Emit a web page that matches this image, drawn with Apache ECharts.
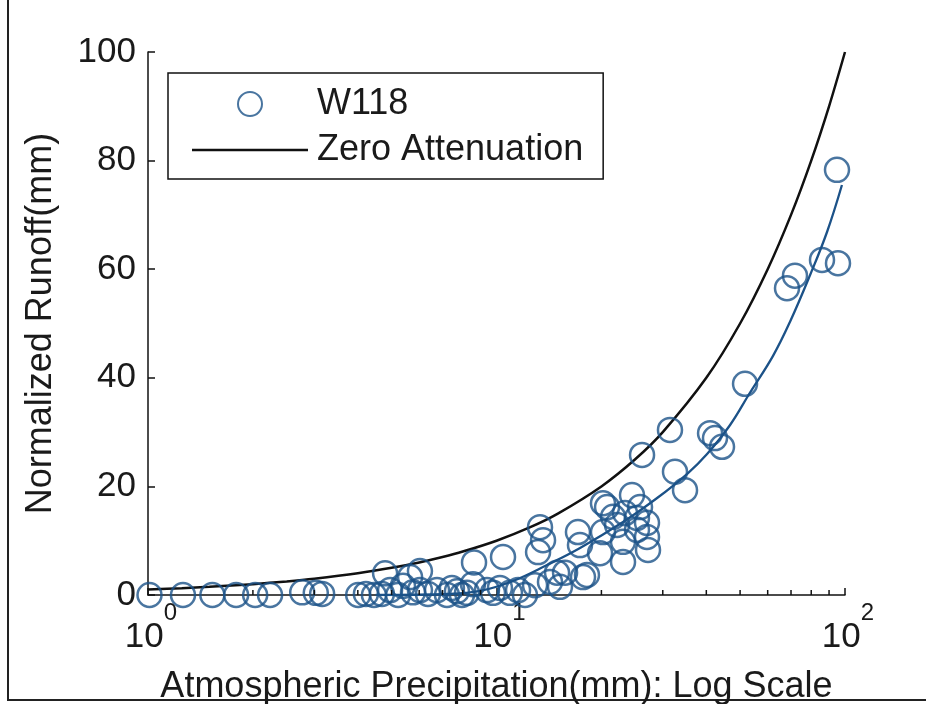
<!DOCTYPE html>
<html><head><meta charset="utf-8">
<script src="https://cdn.jsdelivr.net/npm/echarts@6/dist/echarts.min.js"></script>
<style>html,body{margin:0;padding:0;background:#fff}#c{width:926px;height:704px}</style>
</head><body><div id="c"></div>
<script>
// Observed W118 events: precipitation (mm) and normalized runoff (mm)
var obsX = [1.01,1.26,1.53,1.79,2.03,2.24,2.77,3.03,3.16,4.01,4.22,4.45,4.69,4.79,4.95,5.22,5.39,5.65,5.76,6.03,6.03,6.36,6.75,7.21,7.45,7.70,7.96,8.23,8.56,8.62,9.39,9.77,10.23,10.44,10.93,11.53,12.07,12.90,13.16,13.33,13.60,14.24,14.92,15.21,15.73,17.13,17.36,17.71,18.18,19.82,20.21,20.21,20.76,21.60,22.18,23.07,23.07,23.38,24.48,25.3,25.3,25.81,26.16,27.03,27.03,27.21,31.46,32.52,34.75,41.00,42.36,44.37,51.66,68.17,71.86,85.90,95.48,94.85];
var obsY = [0,0,0,0,0,0,0.5,0.4,0.2,0,0.2,0,0.2,4.0,0.9,0,1.7,3.3,0.5,4.4,0.9,0.2,0.9,0,1.3,0.7,0,0.4,2.0,6.0,0.9,0.4,1.3,7.0,0.4,0.9,0,1.8,7.9,12.5,10.1,2.4,4.1,1.5,4.1,11.6,9.2,3.3,3.7,7.7,11.6,16.9,16.2,14.4,12.9,9.8,6.1,15.1,18.4,14.2,12.0,16.2,25.8,13.3,10.7,8.3,30.4,22.7,19.3,29.8,28.9,27.3,38.9,56.5,58.8,61.7,61.1,78.3];
// Fitted curve (blue line)
var fitX = [4.5,7.36,8.97,11.15,13.96,17.37,23.07,28.9,35.2,40.2,46.8,53.3,62.1,69.5,79.4,88.8,98];
var fitY = [0,0.18,0.74,2.58,5.52,8.66,13.44,17.86,22.28,25.97,31.31,37.2,44.0,50.28,58.93,66.85,75.5];
// Zero attenuation line (runoff equals precipitation)
var zeroX = [1,1.25,1.5,2,2.5,3,4,5,6,7,8,10,12.5,15,20,25,30,40,50,60,70,80,90,100];
var zeroY = [1,1.25,1.5,2,2.5,3,4,5,6,7,8,10,12.5,15,20,25,30,40,50,60,70,80,90,100];
// Minor log ticks
var minorTicks = [2,3,4,5,6,7,8,9,20,30,40,50,60,70,80,90];
var yTicks = [0,20,40,60,80,100];

function pairs(xs, ys){ return xs.map(function(v,i){ return [v, ys[i]]; }); }

var FONT = '"Liberation Sans", Arial, Helvetica, sans-serif';
var BLUE = '#1c5288';
var TXT = '#1a1a1a';

var chart = echarts.init(document.getElementById('c'), null, {renderer:'canvas'});
chart.setOption({
  animation: false,
  backgroundColor: '#fff',
  textStyle: {fontFamily: FONT},
  grid: {left:148, right:81, top:52, bottom:109, containLabel:false, outerBoundsMode:'none'},
  legend: {
    data: [
      {name:'W118', icon:'circle'},
      {name:'Zero Attenuation', icon:'path://M0,0h116v2.5h-116z', itemStyle:{color:'#111', borderWidth:0}}
    ],
    orient: 'vertical',
    left: 168, top: 73,
    padding: [13, 20, 11, 24],
    itemGap: 10,
    itemWidth: 116, itemHeight: 24,
    borderColor: '#111', borderWidth: 1.5,
    backgroundColor: '#fff',
    selectedMode: false,
    textStyle: {fontSize: 36, color: TXT, fontFamily: FONT, lineHeight: 36, padding:[0,0,0,4]}
  },
  xAxis: {
    type: 'log', logBase: 10, min: 1, max: 100,
    name: 'Atmospheric Precipitation(mm): Log Scale',
    nameLocation: 'middle', nameGap: 74,
    nameTextStyle: {fontSize: 36, color: TXT, fontFamily: FONT},
    axisLine: {show:true, onZero:false, lineStyle:{color:'#111', width:1.5}},
    axisTick: {show:true, inside:true, length:7, lineStyle:{color:'#111', width:1.5}},
    splitLine: {show:false},
    axisLabel: {
      margin: 6,
      formatter: function(v){ var e = Math.round(Math.log(v)/Math.LN10); return '{b|10}{s|' + e + '}'; },
      rich: {
        b: {fontSize: 35, color: TXT, fontFamily: FONT, lineHeight: 72, padding:[0,0,0,6]},
        s: {fontSize: 24, color: TXT, fontFamily: FONT, lineHeight: 24, verticalAlign: 'top'}
      }
    }
  },
  yAxis: {
    type: 'value', min: 0, max: 100, interval: 20,
    name: 'Normalized Runoff(mm)',
    nameLocation: 'middle', nameGap: 89,
    nameTextStyle: {fontSize: 36, color: TXT, fontFamily: FONT},
    axisLine: {show:true, lineStyle:{color:'#111', width:1.5}},
    axisTick: {show:true, inside:true, length:7, lineStyle:{color:'#111', width:1.5}},
    splitLine: {show:false},
    axisLabel: {fontSize: 35, color: TXT, fontFamily: FONT, margin: 12,
      formatter: function(v){ return yTicks.indexOf(v) >= 0 ? String(v) : ''; }}
  },
  series: [
    {
      name: 'Zero Attenuation', type: 'line', data: pairs(zeroX, zeroY),
      symbol: 'none', smooth: 0.3, z: 3,
      lineStyle: {color:'#111', width: 2.5}, itemStyle:{color:'#111'}
    },
    {
      name: 'Fit', type: 'line', data: pairs(fitX, fitY),
      symbol: 'none', smooth: 0.4, z: 2,
      lineStyle: {color: BLUE, width: 2.3}, itemStyle:{color: BLUE}
    },
    {
      name: 'W118', type: 'scatter', data: pairs(obsX, obsY),
      symbol: 'circle', symbolSize: 24, z: 4,
      itemStyle: {color: 'rgba(0,0,0,0)', borderColor: BLUE, borderWidth: 2.5}
    },
    {
      name: 'minor', type: 'custom', silent: true, z: 5,
      data: minorTicks.map(function(v){ return [v, 0]; }),
      renderItem: function(params, api){
        var p = api.coord([api.value(0), 0]);
        return {type:'line', shape:{x1:p[0], y1:p[1], x2:p[0], y2:p[1]-5},
          style:{stroke:'#111', lineWidth:1.5}};
      }
    }
  ],
  graphic: [
    {type:'line', shape:{x1:8, y1:0, x2:8, y2:701}, style:{stroke:'#222', lineWidth:2}, silent:true},
    {type:'line', shape:{x1:7, y1:700, x2:926, y2:700}, style:{stroke:'#222', lineWidth:2}, silent:true}
  ]
});
</script></body></html>
